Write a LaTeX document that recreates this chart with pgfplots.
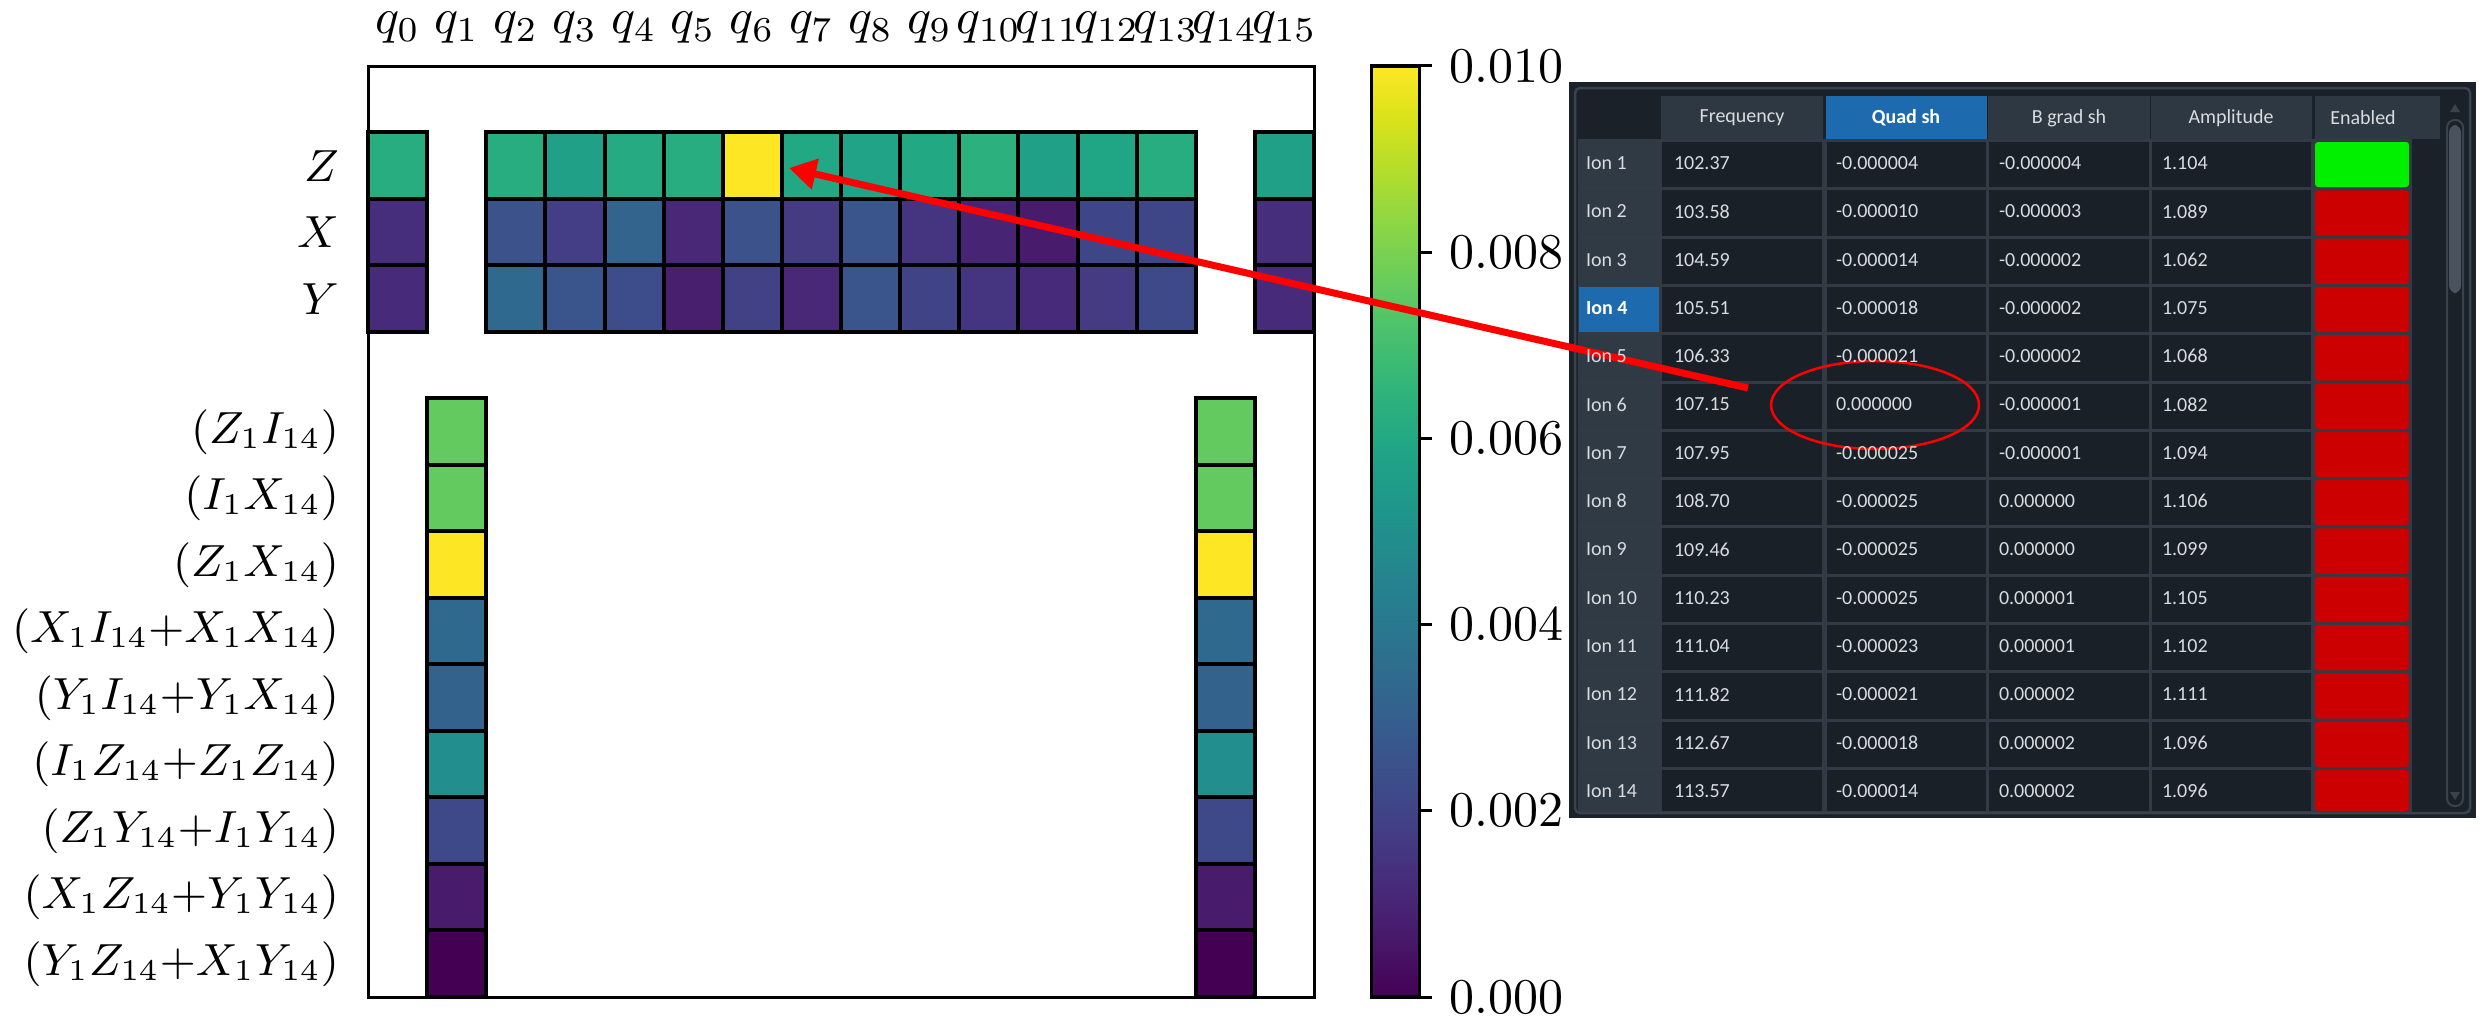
\documentclass[border=0pt]{standalone}
\usepackage{fontspec}
\usepackage{pgfplots}
\usepackage{pgfplotstable}
\pgfplotsset{compat=1.18}
\usepgfplotslibrary{colormaps}
\usetikzlibrary{arrows.meta}
\newfontfamily\tabfont{Carlito}

\definecolor{tframe}{HTML}{1B2129}
\definecolor{tborder}{HTML}{3A434D}
\definecolor{tgap}{HTML}{323B45}
\definecolor{tcell}{HTML}{1A2028}
\definecolor{thead}{HTML}{2E3842}
\definecolor{trowh}{HTML}{2F3A45}
\definecolor{tblue}{HTML}{1E6AAE}
\definecolor{ttext}{HTML}{D8DCE0}
\definecolor{tgreen}{HTML}{00F000}
\definecolor{tred}{HTML}{CC0000}
\definecolor{tthumb}{HTML}{4A535D}

\pgfdeclareplotmark{cell}{%
  \pgfpathrectangle{\pgfpoint{-5.9125pt}{-6.657pt}}{\pgfpoint{11.825pt}{13.314pt}}%
  \pgfusepathqfillstroke}

% heat map: x = qubit, y = row (0 top), c = value
\pgfplotstableread{
x y c
0 1 0.0062
2 1 0.0062
3 1 0.0057
4 1 0.0061
5 1 0.0062
6 1 0.0100
7 1 0.0060
8 1 0.0058
9 1 0.0060
10 1 0.0064
11 1 0.0057
12 1 0.0059
13 1 0.0062
15 1 0.0057
0 2 0.0013
2 2 0.0025
3 2 0.0018
4 2 0.0032
5 2 0.0011
6 2 0.0025
7 2 0.0017
8 2 0.0026
9 2 0.0015
10 2 0.0010
11 2 0.0007
12 2 0.0021
13 2 0.0021
15 2 0.0013
0 3 0.0012
2 3 0.0034
3 3 0.0026
4 3 0.0023
5 3 0.0008
6 3 0.0019
7 3 0.0011
8 3 0.0026
9 3 0.0020
10 3 0.0015
11 3 0.0012
12 3 0.0017
13 3 0.0022
15 3 0.0012
1 5 0.0076
1 6 0.0076
1 7 0.0100
1 8 0.0034
1 9 0.0031
1 10 0.0049
1 11 0.0022
1 12 0.0007
1 13 0.0000
14 5 0.0076
14 6 0.0076
14 7 0.0100
14 8 0.0034
14 9 0.0031
14 10 0.0049
14 11 0.0022
14 12 0.0007
14 13 0.0000
}\heat

\pgfplotstableread[col sep=comma,row sep=\\]{
row,freq,quad,bgrad,amp\\
1,102.37,-0.000004,-0.000004,1.104\\
2,103.58,-0.000010,-0.000003,1.089\\
3,104.59,-0.000014,-0.000002,1.062\\
4,105.51,-0.000018,-0.000002,1.075\\
5,106.33,-0.000021,-0.000002,1.068\\
6,107.15,0.000000,-0.000001,1.082\\
7,107.95,-0.000025,-0.000001,1.094\\
8,108.70,-0.000025,0.000000,1.106\\
9,109.46,-0.000025,0.000000,1.099\\
10,110.23,-0.000025,0.000001,1.105\\
11,111.04,-0.000023,0.000001,1.102\\
12,111.82,-0.000021,0.000002,1.111\\
13,112.67,-0.000018,0.000002,1.096\\
14,113.57,-0.000014,0.000002,1.096\\
}\iontable

\newcommand\tfs{\tabfont\fontsize{4}{4.8}\selectfont}

\begin{document}
\begin{tikzpicture}
\path[use as bounding box] (0,0) rectangle (496.6pt,-203.2pt);

\begin{axis}[
  at={(73.6pt,-13.2pt)}, anchor=north west,
  scale only axis, width=189.2pt, height=186.2pt,
  xmin=-0.5, xmax=15.5, ymin=-0.5, ymax=13.5, y dir=reverse,
  xtick={0,...,15},
  xticklabel={$q_{\pgfmathprintnumber{\tick}}$},
  xticklabel pos=right,
  ytick={1,2,3,5,6,7,8,9,10,11,12,13},
  yticklabels={$Z$,$X$,$Y$,$(Z_1I_{14})$,$(I_1X_{14})$,$(Z_1X_{14})$,
    $(X_1I_{14}{+}X_1X_{14})$,$(Y_1I_{14}{+}Y_1X_{14})$,$(I_1Z_{14}{+}Z_1Z_{14})$,
    $(Z_1Y_{14}{+}I_1Y_{14})$,$(X_1Z_{14}{+}Y_1Y_{14})$,$(Y_1Z_{14}{+}X_1Y_{14})$},
  major tick length=0pt,
  axis line style={line width=0.6pt},
  xticklabel style={yshift=1pt},
  yticklabel style={xshift=-2.3pt, font=\fontsize{9.2}{11}\selectfont},
  colormap/viridis,
  point meta min=0, point meta max=0.01,
  colorbar,
  colorbar style={
    at={(parent axis.north east)}, anchor=north west, xshift=3pt,
    width=9.6pt,
    ytick={0,0.002,0.004,0.006,0.008,0.01},
    yticklabels={$0.000$,$0.002$,$0.004$,$0.006$,$0.008$,$0.010$},
    yticklabel style={inner ysep=0pt},
    scaled y ticks=false,
    ytick pos=right, yticklabel pos=right, tick align=outside,
    major tick length=2.4pt,
    tick style={black, line width=0.6pt},
    axis line style={line width=0.7pt},
  },
]
\addplot[scatter, only marks, mark=cell, line width=0.8pt,
  scatter src=explicit,
  scatter/use mapped color={draw=black, fill=mapped color}]
  table[meta=c] {\heat};
\end{axis}

\begin{axis}[
  at={(0pt,0pt)}, anchor=north west, scale only axis,
  width=496.6pt, height=203.2pt,
  xmin=0, xmax=2483, ymin=0, ymax=1016, y dir=reverse,
  hide axis, clip=false,
  tabtext/.style={only marks, mark=none, point meta=explicit symbolic,
    nodes near coords,
    nodes near coords style={anchor=west, inner sep=0pt, font=\tfs, text=ttext}},
]
% frame
\fill[tframe] (axis cs:1569,82) rectangle (axis cs:2476,818);
\draw[tborder, line width=0.5pt, rounded corners=1pt] (axis cs:1575,88) rectangle (axis cs:2470,813);
% header cells
\fill[thead] (axis cs:1661,96) rectangle (axis cs:1823,139);
\fill[tblue] (axis cs:1826,96) rectangle (axis cs:1987,139);
\fill[thead] (axis cs:1988,96) rectangle (axis cs:2150,139);
\fill[thead] (axis cs:2151,96) rectangle (axis cs:2312,139);
\fill[thead] (axis cs:2315,96) rectangle (axis cs:2440,139);
% grid
\fill[tgap] (axis cs:1578,139) rectangle (axis cs:2412,812);
\pgfplotsinvokeforeach{1,...,14}{
  \fill[trowh] (axis cs:1579,{140+(#1-1)*48.3+2}) rectangle (axis cs:1659,{min(140+#1*48.3-1,811)});
  \fill[tcell] (axis cs:1662,{140+(#1-1)*48.3+2}) rectangle (axis cs:1822,{min(140+#1*48.3-1,811)});
  \fill[tcell] (axis cs:1827,{140+(#1-1)*48.3+2}) rectangle (axis cs:1986,{min(140+#1*48.3-1,811)});
  \fill[tcell] (axis cs:1989,{140+(#1-1)*48.3+2}) rectangle (axis cs:2149,{min(140+#1*48.3-1,811)});
  \fill[tcell] (axis cs:2152,{140+(#1-1)*48.3+2}) rectangle (axis cs:2311,{min(140+#1*48.3-1,811)});
  \fill[tred, rounded corners=0.6pt] (axis cs:2315,{140+(#1-1)*48.3+2}) rectangle (axis cs:2409,{min(140+#1*48.3-1,811)});
}
\fill[tblue] (axis cs:1579,{140+3*48.3+2}) rectangle (axis cs:1659,{140+4*48.3-1});
\fill[tgreen, rounded corners=0.6pt] (axis cs:2315,142) rectangle (axis cs:2409,187);
% scrollbar
\draw[tborder, line width=0.4pt, rounded corners=1.5pt] (axis cs:2447,120) rectangle (axis cs:2463,806);
\fill[tthumb, rounded corners=1.5pt] (axis cs:2449,125) rectangle (axis cs:2461,293);
\fill[tborder] (axis cs:2450,112) -- (axis cs:2460,112) -- (axis cs:2455,104) -- cycle;
\fill[tborder] (axis cs:2450,792) -- (axis cs:2460,792) -- (axis cs:2455,800) -- cycle;
% header text
\node[font=\tfs, text=ttext] at (axis cs:1742,118) {Frequency};
\node[font=\tfs\bfseries, text=white] at (axis cs:1906,118) {Quad sh};
\node[font=\tfs, text=ttext] at (axis cs:2069,118) {B grad sh};
\node[font=\tfs, text=ttext] at (axis cs:2231,118) {Amplitude};
\node[font=\tfs, text=ttext] at (axis cs:2363,118) {Enabled};
% table text
\addplot[tabtext, nodes near coords={Ion~\pgfplotspointmeta}, skip coords between index={3}{4}]
  table[x expr=1585, y expr={163+(\thisrow{row}-1)*48.3}, meta=row] {\iontable};
\node[anchor=west, inner sep=0pt, font=\tfs\bfseries, text=white] at (axis cs:1585,307.9) {Ion 4};
\addplot[tabtext] table[x expr=1673, y expr={163+(\thisrow{row}-1)*48.3}, meta=freq] {\iontable};
\addplot[tabtext] table[x expr=1835, y expr={163+(\thisrow{row}-1)*48.3}, meta=quad] {\iontable};
\addplot[tabtext] table[x expr=1998, y expr={163+(\thisrow{row}-1)*48.3}, meta=bgrad] {\iontable};
\addplot[tabtext] table[x expr=2161, y expr={163+(\thisrow{row}-1)*48.3}, meta=amp] {\iontable};
% annotation
\draw[red, line width=0.5pt] (axis cs:1875,405) ellipse [x radius=20.8pt, y radius=8.8pt];
\draw[red, line width=1.4pt, -{Triangle[length=5.4pt,width=6pt]}] (axis cs:1748,388) -- (axis cs:789,168);
\end{axis}
\end{tikzpicture}
\end{document}
